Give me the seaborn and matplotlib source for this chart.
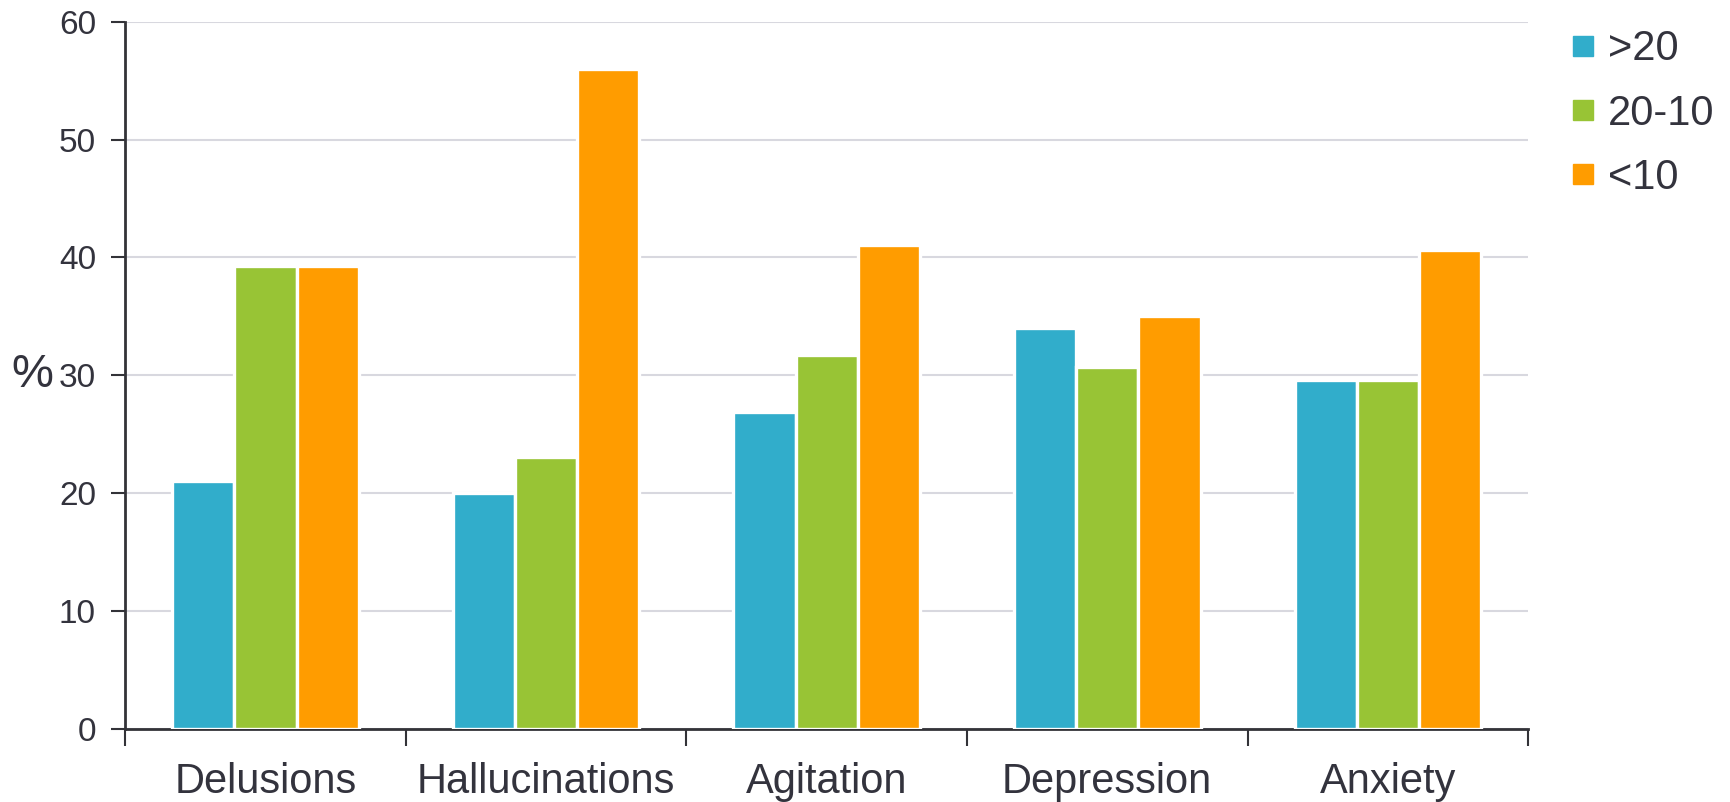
import matplotlib
matplotlib.use("Agg")
import matplotlib.pyplot as plt
from matplotlib.lines import Line2D
import seaborn as sns
import pandas as pd

# Symptom prevalence (%) by score band
symptoms = ["Delusions", "Hallucinations", "Agitation", "Depression", "Anxiety"]
bands = [">20", "20-10", "<10"]
band_gt20 = [21.0, 20.0, 26.9, 34.0, 29.6]
band_20_10 = [39.3, 23.1, 31.7, 30.7, 29.6]
band_lt10 = [39.3, 56.0, 41.1, 35.0, 40.6]
y_ticks = [0, 10, 20, 30, 40, 50, 60]

colors = ["#31adcb", "#98c435", "#ff9c00"]
text_color = "#33333d"

df = pd.DataFrame({
    "symptom": symptoms * 3,
    "band": [b for b in bands for _ in symptoms],
    "pct": band_gt20 + band_20_10 + band_lt10,
})

sns.set_theme(style="white")
plt.rcParams["font.family"] = ["Liberation Sans", "DejaVu Sans"]
plt.rcParams["text.color"] = text_color

fig = plt.figure(figsize=(17.31, 8.02), dpi=100)
ax = fig.add_axes([0.0723, 0.0910, 0.8105, 0.8819])

sns.barplot(
    data=df, x="symptom", y="pct", hue="band", order=symptoms, hue_order=bands,
    palette=colors, width=0.665, gap=0, edgecolor="white", linewidth=2.4,
    saturation=1, legend=False, ax=ax, zorder=3,
)

ax.set_xlim(-0.5, len(symptoms) - 0.5)
ax.set_ylim(0, 60)
ax.set_yticks(y_ticks)
ax.yaxis.grid(True, color="#d8d8df", linewidth=1.5, zorder=0)
ax.set_axisbelow(True)

for side in ("top", "right"):
    ax.spines[side].set_visible(False)
for side in ("left", "bottom"):
    ax.spines[side].set_color("#333338")
    ax.spines[side].set_linewidth(2)

# category labels centred, tick marks on the boundaries between groups
ax.set_xticks(range(len(symptoms)))
ax.set_xticklabels(symptoms)
ax.set_xticks([i - 0.5 for i in range(len(symptoms) + 1)], minor=True)
ax.tick_params(axis="x", which="major", length=0, pad=24, labelsize=30, labelcolor=text_color)
ax.tick_params(axis="x", which="minor", length=12, width=1.5, color="#333338", direction="out", bottom=True)
ax.tick_params(axis="y", length=10, width=1.5, color="#333338", direction="out", left=True,
               pad=11, labelsize=24, labelcolor=text_color)

ax.set_xlabel("")
ax.set_ylabel("%", rotation=0, fontsize=34, color=text_color, va="center", ha="center")
ax.yaxis.set_label_coords(-0.066, 0.5)

handles = [Line2D([], [], marker="s", linestyle="", markersize=14.5, markerfacecolor=c,
                  markeredgecolor=c) for c in colors]
fig.legend(handles, bands, loc="upper left", bbox_to_anchor=(0.8975, 0.979), frameon=False,
           fontsize=30, handlelength=0.8, handletextpad=0.2, labelspacing=0.58,
           borderpad=0.3, borderaxespad=0, labelcolor=text_color)

fig.savefig("out.png", dpi=100)
